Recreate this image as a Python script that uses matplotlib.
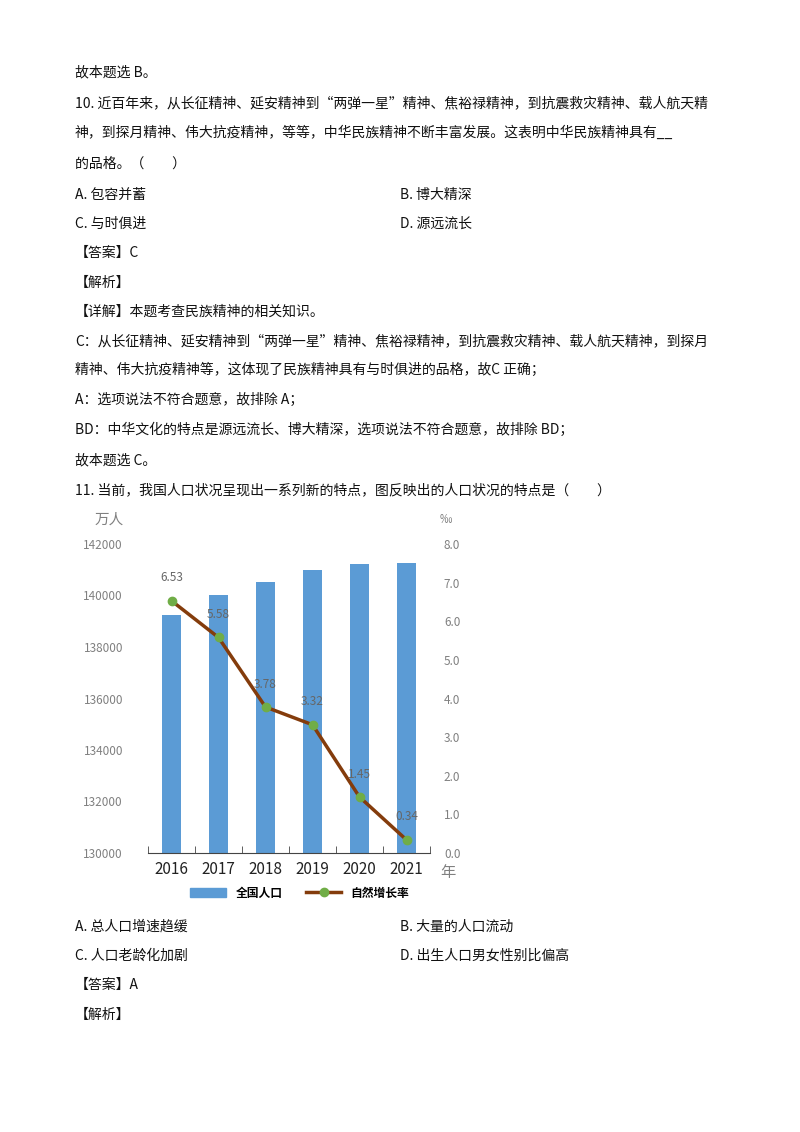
import matplotlib.pyplot as plt
from matplotlib.lines import Line2D
from matplotlib.patches import Patch
import numpy as np

plt.rcParams['font.family'] = ['Noto Sans CJK SC', 'DejaVu Sans']

# 数据
years = ['2016', '2017', '2018', '2019', '2020', '2021']
population = [139232, 140011, 140541, 141008, 141212, 141260]
growth_rate = [6.53, 5.58, 3.78, 3.32, 1.45, 0.34]

W, H = 800, 1132
fig = plt.figure(figsize=(8, 11.32), dpi=100)

def px(x, y):
    return x / W, 1 - y / H

# 正文
lines = [
    (75, 72, '故本题选 B。'),
    (75, 103, '10. 近百年来，从长征精神、延安精神到“两弹一星”精神、焦裕禄精神，到抗震救灾精神、载人航天精'),
    (75, 133, '神，到探月精神、伟大抗疫精神，等等，中华民族精神不断丰富发展。这表明中华民族精神具有__'),
    (75, 164, '的品格。（　　）'),
    (75, 195, 'A. 包容并蓄'), (400, 195, 'B. 博大精深'),
    (75, 224, 'C. 与时俱进'), (400, 224, 'D. 源远流长'),
    (75, 253, '【答案】C'),
    (75, 283, '【解析】'),
    (75, 312, '【详解】本题考查民族精神的相关知识。'),
    (75, 341, 'C：从长征精神、延安精神到“两弹一星”精神、焦裕禄精神，到抗震救灾精神、载人航天精神，到探月'),
    (75, 370, '精神、伟大抗疫精神等，这体现了民族精神具有与时俱进的品格，故C 正确；'),
    (75, 400, 'A：选项说法不符合题意，故排除 A；'),
    (75, 430, 'BD：中华文化的特点是源远流长、博大精深，选项说法不符合题意，故排除 BD；'),
    (75, 460, '故本题选 C。'),
    (75, 490, '11. 当前，我国人口状况呈现出一系列新的特点，图反映出的人口状况的特点是（　　）'),
    (75, 927, 'A. 总人口增速趋缓'), (400, 927, 'B. 大量的人口流动'),
    (75, 956, 'C. 人口老龄化加剧'), (400, 956, 'D. 出生人口男女性别比偏高'),
    (75, 985, '【答案】A'),
    (75, 1015, '【解析】'),
]
for x, y, s in lines:
    fx, fy = px(x, y)
    fig.text(fx, fy, s, fontsize=10, va='center', ha='left', color='#111111')

# 图表
l, r, t, b = 148, 430, 544, 853
ax = fig.add_axes([l / W, 1 - b / H, (r - l) / W, (b - t) / H])
x = np.arange(len(years))
ax.bar(x, population, width=0.39, color='#5B9BD5', zorder=1)
ax.set_ylim(130000, 142000)
ax.set_xlim(-0.5, 5.5)
ax.set_yticks(np.arange(130000, 142001, 2000))
ax.tick_params(axis='y', length=0, labelsize=8.5, labelcolor='#808080', pad=18)
ax.set_xticks(x)
ax.set_xticklabels(years, fontsize=11, color='#222222')
ax.set_xticks(np.arange(-0.5, 5.6, 1), minor=True)
ax.tick_params(axis='x', which='major', length=0, pad=6)
ax.tick_params(axis='x', which='minor', length=5, direction='in', color='#444444')
for s in ['top', 'right', 'left']:
    ax.spines[s].set_visible(False)
ax.spines['bottom'].set_color('#444444')

ax2 = ax.twinx()
ax2.plot(x, growth_rate, color='#843C0C', lw=2.5, marker='o', markersize=6,
         markerfacecolor='#70AD47', markeredgecolor='#70AD47', zorder=3)
for xi, v in zip(x, growth_rate):
    ax2.annotate(f'{v:.2f}', (xi, v), xytext=(0, 14), textcoords='offset points',
                 ha='center', fontsize=8.5, color='#666666')
ax2.set_ylim(0, 8)
ax2.set_yticks(np.arange(0, 8.1, 1))
ax2.set_yticklabels([f'{v:.1f}' for v in np.arange(0, 8.1, 1)])
ax2.tick_params(axis='y', length=0, labelsize=8.5, labelcolor='#808080', pad=10)
for s in ['top', 'right', 'left', 'bottom']:
    ax2.spines[s].set_visible(False)

fig.text(*px(95, 520), '万人', fontsize=10.5, color='#808080', va='center')
fig.text(*px(440, 520), '‰', fontsize=9, color='#808080', va='center')
fig.text(*px(440, 872), '年', fontsize=11, color='#808080', va='center')

handles = [Patch(color='#5B9BD5'),
           Line2D([0], [0], color='#843C0C', lw=2.5, marker='o', markersize=6,
                  markerfacecolor='#70AD47', markeredgecolor='#70AD47')]
fig.legend(handles, ['全国人口', '自然增长率'], loc='center', bbox_to_anchor=px(300, 893),
           ncol=2, frameon=False, fontsize=8.5, handlelength=3, columnspacing=2,
           prop={'weight': 'bold', 'size': 8.5})

fig.savefig('out.png', dpi=100, facecolor='white')
